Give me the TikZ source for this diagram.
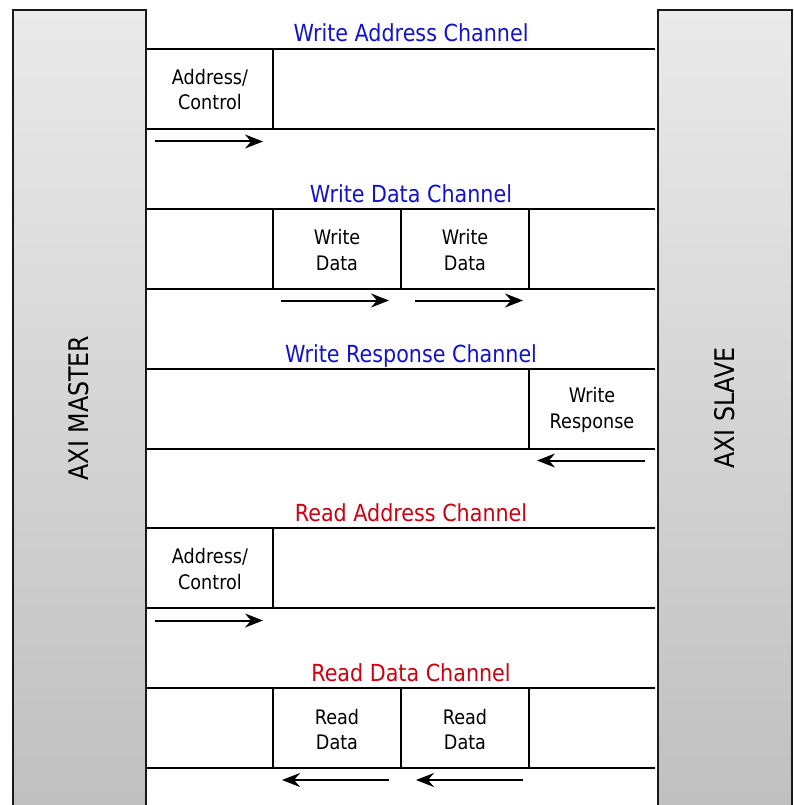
\documentclass[tikz,border=0pt]{standalone}
\usepackage{fontspec}
\setmainfont{DejaVu Sans}[FakeStretch=0.88]
\usetikzlibrary{arrows.meta,shadows}
\definecolor{wrblue}{RGB}{18,18,204}
\definecolor{rdred}{RGB}{204,0,16}
\definecolor{boxtop}{RGB}{234,234,234}
\definecolor{boxbot}{RGB}{191,191,191}
\begin{document}
\begin{tikzpicture}[x=1pt,y=-1pt,
  agent/.style={draw=black!90, line width=1.8pt, top color=boxtop, bottom color=boxbot,
    minimum width=133pt, minimum height=812pt, anchor=north west, inner sep=0pt,
    drop shadow={shadow xshift=1.5pt, shadow yshift=-1pt, opacity=0.25}},
  agentlabel/.style={rotate=90, font=\fontsize{27}{30}\selectfont, inner sep=0pt},
  bus/.style={line width=2pt},
  divider/.style={line width=1.6pt},
  flow/.style={line width=2pt, -{Stealth[length=18pt,width=14pt,inset=6pt]}},
  chtitle/.style={font=\fontsize{23.5}{26}\selectfont, anchor=base, inner sep=0pt},
  cell/.style={font=\fontsize{20}{25.5}\selectfont, align=center, inner sep=0pt}]

\useasboundingbox (0,0) rectangle (793,805);

% master and slave blocks
\node[agent] (master) at (12,9) {};
\node[agent, minimum width=134pt] (slave) at (657,9) {};
\node[agentlabel] (masterlabel) at (79,408) {AXI MASTER};
\node[agentlabel] (slavelabel) at (725,408) {AXI SLAVE};

% ---- Write Address Channel
\node[chtitle, text=wrblue] (t1) at (411,42) {Write Address Channel};
\draw[bus] (147,49) -- (655,49) (147,129) -- (655,129);
\draw[divider] (273,49) -- (273,128);
\node[cell] (aw) at (210,89.5) {Address/\\Control};
\coordinate (aws) at (155,141.5);
\coordinate (awe) at (263,141.5);
\draw[flow] (aws) -- (awe);

% ---- Write Data Channel
\node[chtitle, text=wrblue] (t2) at (411,202) {Write Data Channel};
\draw[bus] (147,209) -- (655,209) (147,289) -- (655,289);
\draw[divider] (273,209) -- (273,288) (401,209) -- (401,288) (529,209) -- (529,288);
\node[cell] (w1) at (337,250) {Write\\Data};
\node[cell] (w2) at (465,250) {Write\\Data};
\coordinate (w1s) at (281,300.5);
\coordinate (w1e) at (389,300.5);
\coordinate (w2s) at (415,300.5);
\coordinate (w2e) at (523,300.5);
\draw[flow] (w1s) -- (w1e);
\draw[flow] (w2s) -- (w2e);

% ---- Write Response Channel
\node[chtitle, text=wrblue] (t3) at (411,362) {Write Response Channel};
\draw[bus] (147,369) -- (655,369) (147,449) -- (655,449);
\draw[divider] (529,369) -- (529,448);
\node[cell] (b) at (592,410) {Write\\Response};
\coordinate (bs) at (645,460.5);
\coordinate (be) at (537,460.5);
\draw[flow] (bs) -- (be);

% ---- Read Address Channel
\node[chtitle, text=rdred] (t4) at (411,521) {Read Address Channel};
\draw[bus] (147,528) -- (655,528) (147,608) -- (655,608);
\draw[divider] (273,528) -- (273,607);
\node[cell] (ar) at (210,569) {Address/\\Control};
\coordinate (ars) at (155,620.5);
\coordinate (are) at (263,620.5);
\draw[flow] (ars) -- (are);

% ---- Read Data Channel
\node[chtitle, text=rdred] (t5) at (411,681) {Read Data Channel};
\draw[bus] (147,688) -- (655,688) (147,768) -- (655,768);
\draw[divider] (273,688) -- (273,767) (401,688) -- (401,767) (529,688) -- (529,767);
\node[cell] (r1) at (337,729.5) {Read\\Data};
\node[cell] (r2) at (465,729.5) {Read\\Data};
\coordinate (r1s) at (389,780);
\coordinate (r1e) at (282,780);
\coordinate (r2s) at (523,780);
\coordinate (r2e) at (416,780);
\draw[flow] (r1s) -- (r1e);
\draw[flow] (r2s) -- (r2e);
\end{tikzpicture}
\end{document}
